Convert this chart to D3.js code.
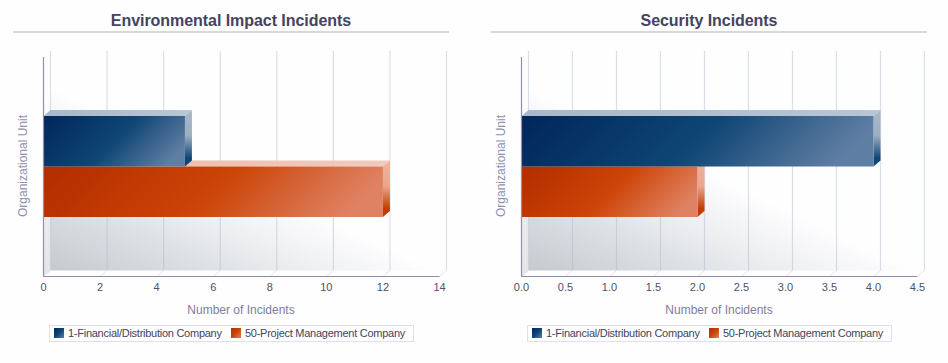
<!DOCTYPE html>
<html><head><meta charset="utf-8">
<script src="https://cdn.jsdelivr.net/npm/d3@7"></script>
<style>html,body{margin:0;padding:0;background:#fdfefd;overflow:hidden}svg{display:block}text{font-family:"Liberation Sans",Arial,sans-serif}</style>
</head><body><svg id="c" width="948" height="363"></svg>
<script>
const chartTitles = ["Environmental Impact Incidents", "Security Incidents"];
const seriesNames = ["1-Financial/Distribution Company", "50-Project Management Company"];
const environmentalValues = [5, 12];
const securityValues = [4, 2];
const environmentalTicks = [0, 2, 4, 6, 8, 10, 12, 14];
const securityTicks = [0, 0.5, 1, 1.5, 2, 2.5, 3, 3.5, 4, 4.5];
const yTitle = "Organizational Unit";
const xTitle = "Number of Incidents";

const svg = d3.select("#c");
const defs = svg.append("defs");
const DX = 7, DY = 6;
const palette = [
  {front:["#00265c","#0f4675","#5f7ea3"], top:["#a9b8ca","#b9c5d3"], side:["#a8b6ca","#a0aec2","#0f4676"]},
  {front:["#b22d00","#cc4406","#df8263"], top:["#efb7a3","#efcbbd"], side:["#efb29c","#eaa68e","#c53c02"]}
];
function lg(id, x1,y1,x2,y2, stops){
  const g = defs.append("linearGradient").attr("id",id)
    .attr("gradientUnits","userSpaceOnUse").attr("x1",x1).attr("y1",y1).attr("x2",x2).attr("y2",y2);
  stops.forEach(s=>g.append("stop").attr("offset",s[0]).attr("stop-color",s[1]));
  return `url(#${id})`;
}
function poly(g, pts, fill){ return g.append("polygon").attr("points",pts.map(p=>p.join(",")).join(" ")).attr("fill",fill); }

function chart(idx, offsetX, values, ticks, fmt){
  const g = svg.append("g").attr("transform",`translate(${offsetX},0)`);
  const x = d3.scaleLinear().domain([ticks[0],ticks[ticks.length-1]]).range([43.5,439.5]);
  const y = d3.scaleLinear().domain([0,1]).range([276.5,57]);
  const x0=x.range()[0], x1=x.range()[1], yb=y(0), yt=y(1);

  g.append("text").attr("x",231).attr("y",26).attr("text-anchor","middle")
    .attr("font-size",16).attr("font-weight","bold").attr("letter-spacing",-0.05).attr("fill","#45435f").text(chartTitles[idx]);
  g.append("rect").attr("x",13).attr("y",31).attr("width",436).attr("height",2).attr("fill","#d6d8dc");

  // walls
  const wall = lg("wall"+idx, x0+DX, yb-DY, x0+DX+71, yb-DY-149, [[0,"#c6cace"],[0.45,"#dfe2e5"],[0.75,"#f1f2f4"],[0.93,"#fafafc"],[1,"#fdfefd"]]);
  g.append("rect").attr("x",x0+DX).attr("y",yt-DY).attr("width",x1-x0).attr("height",yb-yt).attr("fill",wall);
  const side = lg("sidewall"+idx, x0, yb, x0, yt+40, [[0,"#e4e5e7"],[0.6,"#f0f1f2"],[1,"#fdfefd"]]);
  poly(g,[[x0,yt],[x0+DX,yt-DY],[x0+DX,yb-DY],[x0,yb]],side);

  // grid
  ticks.forEach(t=>{
    g.append("line").attr("x1",x(t)+DX).attr("x2",x(t)+DX).attr("y1",yt-DY).attr("y2",yb-DY)
      .attr("stroke","#a9b3d0").attr("stroke-opacity",0.42).attr("stroke-width",1.2);
    g.append("line").attr("x1",x(t)+DX).attr("x2",x(t)).attr("y1",yb-DY).attr("y2",yb)
      .attr("stroke","#e3e5ec").attr("stroke-width",1);
  });

  // bars: lower series first so the upper one covers its top face
  const band = d3.scaleBand().domain(seriesNames).range([116,217]);
  d3.range(seriesNames.length).reverse().forEach(i=>{
    const v = values[i], xe = x(v), top = band(seriesNames[i]), bot = top+band.bandwidth(), p = palette[i];
    const id = idx+"_"+i;
    poly(g,[[x0,top],[x0+DX,top-DY],[xe+DX,top-DY],[xe,top]], lg("t"+id,x0,top,xe,top,[[0,p.top[0]],[1,p.top[1]]]));
    poly(g,[[xe,top],[xe+DX,top-DY],[xe+DX,bot-DY],[xe,bot]], lg("s"+id,xe,top-DY,xe,bot,[[0,p.side[0]],[0.45,p.side[1]],[0.85,p.side[2]],[1,p.side[2]]]));
    const w = xe-x0, h = bot-top, q = (w+h)/2;
    g.append("rect").attr("x",x0).attr("y",top).attr("width",w).attr("height",h)
      .attr("fill",lg("f"+id,x0,top,x0+q,top+q,[[0,p.front[0]],[0.5,p.front[1]],[0.9,p.front[2]],[1,p.front[2]]]));
  });

  // axis lines
  g.append("line").attr("x1",x0).attr("x2",x0).attr("y1",yt).attr("y2",yb).attr("stroke","#9291aa").attr("stroke-width",1.2);
  g.append("line").attr("x1",x0).attr("x2",x1).attr("y1",yb).attr("y2",yb).attr("stroke","#8f8dac").attr("stroke-width",1.2);

  ticks.forEach(t=>{
    g.append("text").attr("x",x(t)).attr("y",291).attr("text-anchor","middle")
      .attr("font-size",11).attr("fill","#50506a").text(fmt(t));
  });
  g.append("text").attr("x",241).attr("y",314).attr("text-anchor","middle")
    .attr("font-size",12).attr("fill","#7d7da0").text(xTitle);
  g.append("text").attr("transform","translate(26.5,166) rotate(-90)").attr("text-anchor","middle")
    .attr("font-size",12).attr("fill","#8f8fb0").text(yTitle);

  // legend
  g.append("rect").attr("x",49.5).attr("y",325.5).attr("width",364).attr("height",16)
    .attr("fill","#fdfefd").attr("stroke","#dfe1ea");
  [54,231].forEach((sx,i)=>{
    g.append("rect").attr("x",sx).attr("y",328).attr("width",10).attr("height",10)
      .attr("fill",lg("l"+idx+"_"+i,sx,328,sx+10,338,[[0,palette[i].front[0]],[0.5,palette[i].front[1]],[1,palette[i].front[2]]]));
    g.append("text").attr("x",sx+14).attr("y",337).attr("font-size",11)
      .attr("letter-spacing",-0.26).attr("fill","#44445c").text(seriesNames[i]);
  });
}
chart(0,0,environmentalValues,environmentalTicks,d3.format("d"));
chart(1,478,securityValues,securityTicks,d3.format(".1f"));
</script></body></html>
